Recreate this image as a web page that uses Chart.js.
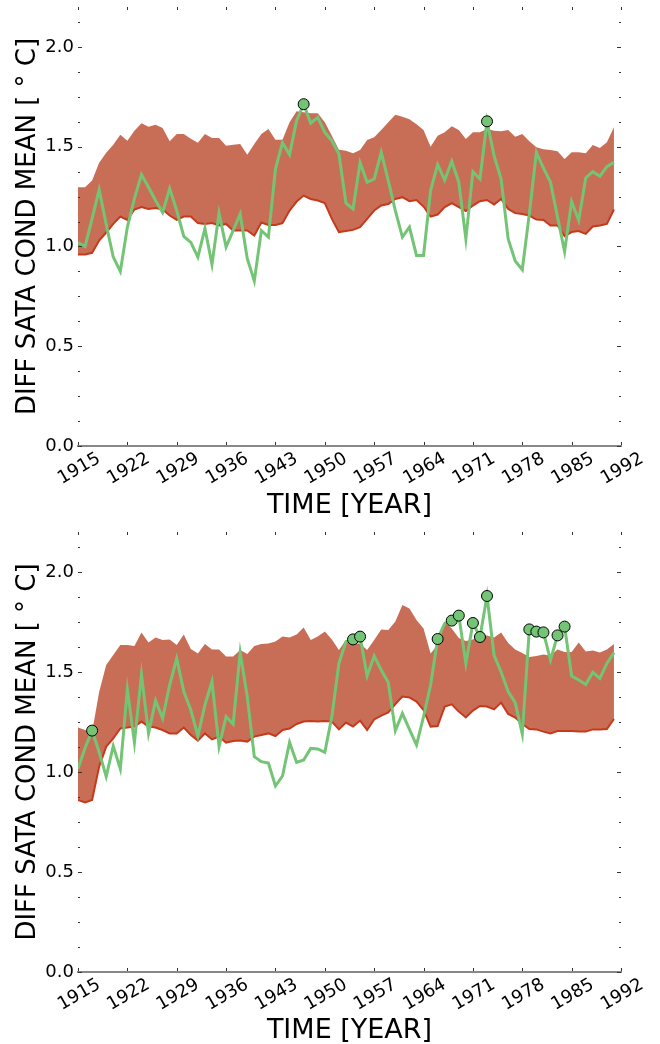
<!DOCTYPE html>
<html>
<head>
<meta charset="utf-8">
<script src="https://cdn.jsdelivr.net/npm/chart.js@4.4.1/dist/chart.umd.min.js"></script>
<style>
body { margin: 0; background: #fff; }
canvas { display: block; }
</style>
</head>
<body>
<canvas id="topChart" width="660" height="522"></canvas>
<canvas id="bottomChart" width="660" height="522"></canvas>
<script>
const years = [1915, 1916, 1917, 1918, 1919, 1920, 1921, 1922, 1923, 1924, 1925, 1926, 1927, 1928, 1929, 1930,
  1931, 1932, 1933, 1934, 1935, 1936, 1937, 1938, 1939, 1940, 1941, 1942, 1943, 1944, 1945, 1946, 1947, 1948,
  1949, 1950, 1951, 1952, 1953, 1954, 1955, 1956, 1957, 1958, 1959, 1960, 1961, 1962, 1963, 1964, 1965, 1966,
  1967, 1968, 1969, 1970, 1971, 1972, 1973, 1974, 1975, 1976, 1977, 1978, 1979, 1980, 1981, 1982, 1983, 1984,
  1985, 1986, 1987, 1988, 1989, 1990, 1991]
const xTicks = [1915, 1922, 1929, 1936, 1943, 1950, 1957, 1964, 1971, 1978, 1985, 1992]
const yTicks = [0, 0.125, 0.25, 0.375, 0.5, 0.625, 0.75, 0.875, 1, 1.125, 1.25, 1.375, 1.5, 1.625, 1.75, 1.875, 2, 2.125]

// upper panel
const topLower = [0.96, 0.96, 0.968, 1.03, 1.07, 1.113, 1.15, 1.133, 1.185, 1.197, 1.188, 1.193, 1.185, 1.155, 1.133, 1.15,
  1.15, 1.117, 1.113, 1.117, 1.105, 1.113, 1.08, 1.08, 1.08, 1.055, 1.12, 1.108, 1.108, 1.117, 1.18, 1.225,
  1.255, 1.238, 1.23, 1.217, 1.138, 1.072, 1.077, 1.083, 1.097, 1.138, 1.18, 1.205, 1.213, 1.238, 1.247, 1.227,
  1.233, 1.2, 1.15, 1.16, 1.197, 1.217, 1.197, 1.177, 1.205, 1.227, 1.233, 1.21, 1.238, 1.188, 1.167, 1.163,
  1.155, 1.135, 1.133, 1.105, 1.105, 1.052, 1.072, 1.077, 1.063, 1.1, 1.105, 1.113, 1.185]
const topUpper = [1.297, 1.297, 1.33, 1.42, 1.47, 1.51, 1.56, 1.53, 1.58, 1.617, 1.6, 1.61, 1.593, 1.527, 1.563, 1.563,
  1.54, 1.52, 1.563, 1.543, 1.543, 1.505, 1.51, 1.513, 1.46, 1.513, 1.563, 1.588, 1.535, 1.535, 1.622, 1.677,
  1.672, 1.667, 1.668, 1.622, 1.555, 1.485, 1.48, 1.467, 1.483, 1.533, 1.547, 1.583, 1.622, 1.66, 1.65, 1.638,
  1.613, 1.583, 1.5, 1.555, 1.572, 1.602, 1.583, 1.538, 1.572, 1.572, 1.588, 1.58, 1.577, 1.583, 1.55, 1.563,
  1.527, 1.497, 1.487, 1.483, 1.477, 1.438, 1.472, 1.472, 1.467, 1.508, 1.493, 1.522, 1.597]
const topDiff = [1.02, 1.0, 1.14, 1.285, 1.11, 0.947, 0.875, 1.097, 1.24, 1.36, 1.297, 1.23, 1.17, 1.29, 1.18, 1.05,
  1.02, 0.947, 1.09, 0.91, 1.167, 0.997, 1.08, 1.163, 0.94, 0.827, 1.08, 1.047, 1.388, 1.52, 1.46, 1.63,
  1.713, 1.618, 1.647, 1.572, 1.53, 1.463, 1.217, 1.188, 1.42, 1.322, 1.338, 1.472, 1.33, 1.18, 1.047, 1.097,
  0.955, 0.955, 1.28, 1.41, 1.333, 1.427, 1.322, 1.038, 1.375, 1.338, 1.627, 1.455, 1.338, 1.038, 0.927, 0.883,
  1.163, 1.472, 1.393, 1.322, 1.147, 0.975, 1.225, 1.13, 1.343, 1.375, 1.352, 1.4, 1.422]
const topMarked = [1947, 1973]

// lower panel
const botLower = [0.86, 0.848, 0.86, 1.027, 1.127, 1.168, 1.218, 1.222, 1.227, 1.252, 1.227, 1.222, 1.21, 1.193, 1.193, 1.222,
  1.185, 1.157, 1.193, 1.163, 1.177, 1.147, 1.155, 1.157, 1.152, 1.177, 1.185, 1.193, 1.18, 1.21, 1.217, 1.24,
  1.252, 1.255, 1.252, 1.255, 1.252, 1.213, 1.247, 1.227, 1.257, 1.21, 1.263, 1.282, 1.298, 1.34, 1.377, 1.373,
  1.352, 1.31, 1.227, 1.23, 1.327, 1.338, 1.302, 1.273, 1.307, 1.33, 1.327, 1.313, 1.347, 1.29, 1.272, 1.24,
  1.215, 1.213, 1.202, 1.193, 1.205, 1.205, 1.205, 1.203, 1.202, 1.213, 1.213, 1.215, 1.265]
const botUpper = [1.223, 1.21, 1.2, 1.4, 1.535, 1.585, 1.635, 1.635, 1.63, 1.698, 1.647, 1.673, 1.66, 1.663, 1.635, 1.688,
  1.615, 1.593, 1.64, 1.613, 1.613, 1.577, 1.577, 1.61, 1.59, 1.63, 1.64, 1.643, 1.652, 1.677, 1.672, 1.688,
  1.723, 1.66, 1.677, 1.702, 1.663, 1.61, 1.66, 1.643, 1.643, 1.61, 1.66, 1.713, 1.71, 1.752, 1.835, 1.818,
  1.76, 1.718, 1.593, 1.635, 1.752, 1.717, 1.67, 1.655, 1.662, 1.678, 1.683, 1.672, 1.697, 1.645, 1.613, 1.595,
  1.575, 1.58, 1.587, 1.583, 1.612, 1.6, 1.6, 1.648, 1.602, 1.607, 1.597, 1.613, 1.64]
const botDiff = [1.018, 1.12, 1.207, 1.1, 0.977, 1.13, 1.015, 1.413, 1.148, 1.488, 1.193, 1.357, 1.268, 1.435, 1.568, 1.402,
  1.31, 1.18, 1.335, 1.452, 1.127, 1.277, 1.24, 1.597, 1.377, 1.077, 1.052, 1.045, 0.93, 0.98, 1.148, 1.048,
  1.06, 1.118, 1.115, 1.098, 1.277, 1.543, 1.652, 1.663, 1.677, 1.48, 1.58, 1.51, 1.447, 1.207, 1.293, 1.213,
  1.135, 1.277, 1.435, 1.665, 1.743, 1.757, 1.782, 1.542, 1.745, 1.675, 1.88, 1.583, 1.5, 1.402, 1.347, 1.19,
  1.713, 1.702, 1.698, 1.56, 1.683, 1.727, 1.48, 1.46, 1.438, 1.498, 1.468, 1.543, 1.597]
const botMarked = [1917, 1954, 1955, 1966, 1968, 1969, 1971, 1972, 1973, 1979, 1980, 1981, 1983, 1984]

Chart.defaults.font.family = 'DejaVu Sans'
Chart.defaults.color = '#000'

// matplotlib style ticks pointing into the plot
const insideTicks = {
  id: 'insideTicks',
  afterDraw(chart) {
    const {ctx, chartArea: a, scales} = chart
    ctx.save()
    ctx.strokeStyle = '#333'
    ctx.lineWidth = 1
    ctx.beginPath()
    scales.y.ticks.forEach(t => {
      const py = Math.round(scales.y.getPixelForValue(t.value)) + 0.5
      const len = t.label ? 4 : 2
      ctx.moveTo(a.left, py); ctx.lineTo(a.left + len, py)
      ctx.moveTo(a.right, py); ctx.lineTo(a.right - len, py)
    })
    scales.x.ticks.forEach(t => {
      const px = Math.round(scales.x.getPixelForValue(t.value)) + 0.5
      ctx.moveTo(px, a.top); ctx.lineTo(px, a.top + 3)
      ctx.moveTo(px, a.bottom - 1); ctx.lineTo(px, a.bottom - 4)
    })
    ctx.stroke()
    ctx.restore()
  }
}

function pts(vals) {
  return years.map((yr, i) => ({x: yr, y: vals[i]}))
}

function noPad(s) {
  s.paddingTop = 0
  s.paddingBottom = 0
  s.paddingLeft = 0
  s.paddingRight = 0
}

function createChart(id, lower, upper, diff, marked, padTop, xHeight, titlePad) {
  const ctx = document.getElementById(id).getContext('2d')
  const markPts = years.map((yr, i) => ({x: yr, y: diff[i]})).filter(p => marked.includes(p.x))

  new Chart(ctx, {
    type: 'line',
    data: {
      datasets: [{
        data: pts(lower),
        borderColor: '#C8391B',
        borderWidth: 2,
        pointRadius: 0,
        fill: false,
        order: 2
      }, {
        data: pts(upper),
        borderWidth: 0,
        borderColor: 'rgba(0,0,0,0)',
        backgroundColor: '#C96E56',
        pointRadius: 0,
        fill: '-1',
        order: 3
      }, {
        data: pts(diff),
        borderColor: '#74C476',
        borderWidth: 3,
        pointRadius: 0,
        fill: false,
        order: 1
      }, {
        data: markPts,
        showLine: false,
        pointRadius: 5.5,
        pointBackgroundColor: '#74C476',
        pointBorderColor: '#000',
        pointBorderWidth: 1,
        order: 0
      }]
    },
    options: {
      responsive: false,
      animation: false,
      devicePixelRatio: 1,
      layout: {padding: {top: padTop, right: 39, left: 0, bottom: 0}},
      elements: {line: {tension: 0}},
      plugins: {legend: {display: false}, tooltip: {enabled: false}},
      scales: {
        x: {
          type: 'linear',
          min: 1915,
          max: 1992,
          afterBuildTicks: s => { s.ticks = xTicks.map(v => ({value: v})) },
          afterFit: s => { s.height = xHeight; noPad(s) },
          grid: {display: false, drawTicks: false},
          border: {display: true, color: '#888', width: 2},
          ticks: {
            autoSkip: false,
            minRotation: 30,
            maxRotation: 30,
            labelOffset: 21,
            padding: 2,
            font: {size: 18},
            callback: v => String(v)
          },
          title: {display: true, text: 'TIME [YEAR]', font: {size: 27, lineHeight: 1}, padding: {top: 0, bottom: titlePad}}
        },
        y: {
          min: 0,
          max: 2.2,
          afterBuildTicks: s => { s.ticks = yTicks.map(v => ({value: v})) },
          afterFit: s => { s.width = 78; noPad(s) },
          grid: {display: false, drawTicks: false},
          border: {display: false},
          ticks: {
            autoSkip: false,
            padding: 4,
            font: {size: 18},
            callback: v => (Math.abs(v * 2 - Math.round(v * 2)) < 1e-6 ? v.toFixed(1) : '')
          },
          title: {display: true, text: 'DIFF SATA COND MEAN [ ° C]', font: {size: 26, lineHeight: 1}, padding: {top: 15, bottom: 0}}
        }
      }
    },
    plugins: [insideTicks]
  })
}

createChart('topChart', topLower, topUpper, topDiff, topMarked, 7, 76, 3)
createChart('bottomChart', botLower, botUpper, botDiff, botMarked, 10, 72, 0)
</script>
</body>
</html>
